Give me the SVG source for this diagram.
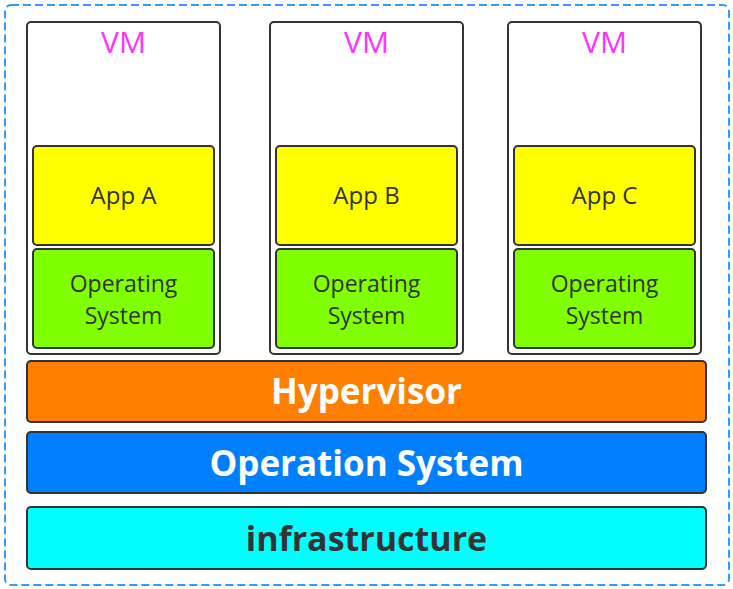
<svg xmlns="http://www.w3.org/2000/svg" width="733" height="589" viewBox="0 0 733 589">
<style>
.box{stroke:#333;stroke-width:2}
.vm{fill:#fff}
.app{fill:#ffff00}
.os{fill:#80ff00}
.vmt{font-family:"Open Sans","Noto Sans",sans-serif;font-size:30px;fill:#ff33ff;text-anchor:middle}
.t{font-family:"Open Sans","Noto Sans",sans-serif;font-size:24px;fill:#333;text-anchor:middle}
.t2{font-family:"Open Sans","Noto Sans",sans-serif;font-size:23px;fill:#333;text-anchor:middle}
.bt{font-family:"Open Sans","Noto Sans",sans-serif;font-size:35px;font-weight:bold;text-anchor:middle}
</style>
<rect x="0" y="0" width="733" height="589" fill="#fff"/>
<rect id="frame" x="5" y="5" width="724" height="580" rx="6" fill="none" stroke="#3399ff" stroke-width="2" stroke-dasharray="8 4"/>
<g id="vm1">
<rect class="box vm" x="27" y="22" width="193" height="332" rx="4"/>
<text class="vmt" x="123.5" y="53">VM</text>
</g>
<g id="appA">
<rect class="box app" x="33" y="146" width="181" height="99" rx="4"/>
<text class="t" x="123.5" y="204">App A</text>
</g>
<g id="os1">
<rect class="box os" x="33" y="249" width="181" height="99" rx="4"/>
<text class="t2" x="123.5" y="292">Operating</text>
<text class="t2" x="123.5" y="324">System</text>
</g>
<g id="vm2">
<rect class="box vm" x="270" y="22" width="193" height="332" rx="4"/>
<text class="vmt" x="366.5" y="53">VM</text>
</g>
<g id="appB">
<rect class="box app" x="276" y="146" width="181" height="99" rx="4"/>
<text class="t" x="366.5" y="204">App B</text>
</g>
<g id="os2">
<rect class="box os" x="276" y="249" width="181" height="99" rx="4"/>
<text class="t2" x="366.5" y="292">Operating</text>
<text class="t2" x="366.5" y="324">System</text>
</g>
<g id="vm3">
<rect class="box vm" x="508" y="22" width="193" height="332" rx="4"/>
<text class="vmt" x="604.5" y="53">VM</text>
</g>
<g id="appC">
<rect class="box app" x="514" y="146" width="181" height="99" rx="4"/>
<text class="t" x="604.5" y="204">App C</text>
</g>
<g id="os3">
<rect class="box os" x="514" y="249" width="181" height="99" rx="4"/>
<text class="t2" x="604.5" y="292">Operating</text>
<text class="t2" x="604.5" y="324">System</text>
</g>
<g id="hypervisor">
<rect class="box" x="27" y="361" width="679" height="61" rx="4" fill="#ff8000"/>
<text class="bt" x="366.5" y="404" fill="#fff">Hypervisor</text>
</g>
<g id="operation-system">
<rect class="box" x="27" y="432" width="679" height="61" rx="4" fill="#007fff"/>
<text class="bt" x="366.5" y="476" fill="#fff">Operation System</text>
</g>
<g id="infrastructure">
<rect class="box" x="27" y="507" width="679" height="62" rx="4" fill="#00ffff"/>
<text class="bt" x="366.5" y="551" fill="#333" style="font-size:34px">infrastructure</text>
</g>
<g id="connectors"></g>
</svg>
